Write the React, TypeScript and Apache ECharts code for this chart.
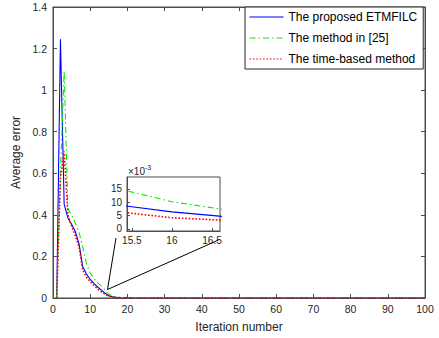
import React, { useEffect, useRef } from "react";
import * as echarts from "echarts";

// Average error per iteration (iterations 1..100)
const proposed = [
  0, 1.245, 0.45, 0.385, 0.355, 0.32, 0.26, 0.15, 0.115, 0.09,
  0.07, 0.053, 0.038, 0.023, 0.0102, 0.0064, 0.0037, 0.0022, 0.0014, 0.0009,
  0.0006, 0.0004, 0.0003, 0.0002, 0.00015, 0.0001, 0.0001, 0.00008, 0.00006, 0.00005,
  0.00004, 0.00003, 0.00003, 0.00002, 0.00002, 0.00002, 0.00001, 0.00001, 0.00001, 0.00001,
  0, 0, 0, 0, 0, 0, 0, 0, 0, 0,
  0, 0, 0, 0, 0, 0, 0, 0, 0, 0,
  0, 0, 0, 0, 0, 0, 0, 0, 0, 0,
  0, 0, 0, 0, 0, 0, 0, 0, 0, 0,
  0, 0, 0, 0, 0, 0, 0, 0, 0, 0,
  0, 0, 0, 0, 0, 0, 0, 0, 0, 0,
];

const method25 = [
  0, 0.6, 1.093, 0.43, 0.4, 0.36, 0.316, 0.244, 0.165, 0.12,
  0.093, 0.073, 0.057, 0.038, 0.0175, 0.0102, 0.0057, 0.0034, 0.0021, 0.0013,
  0.0009, 0.0006, 0.0004, 0.0003, 0.0002, 0.00015, 0.0001, 0.00008, 0.00006, 0.00005,
  0.00004, 0.00003, 0.00003, 0.00002, 0.00002, 0.00002, 0.00001, 0.00001, 0.00001, 0.00001,
  0, 0, 0, 0, 0, 0, 0, 0, 0, 0,
  0, 0, 0, 0, 0, 0, 0, 0, 0, 0,
  0, 0, 0, 0, 0, 0, 0, 0, 0, 0,
  0, 0, 0, 0, 0, 0, 0, 0, 0, 0,
  0, 0, 0, 0, 0, 0, 0, 0, 0, 0,
  0, 0, 0, 0, 0, 0, 0, 0, 0, 0,
];

const timeBased = [
  0, 0.58, 0.705, 0.4, 0.345, 0.3, 0.245, 0.135, 0.1, 0.08,
  0.06, 0.044, 0.03, 0.018, 0.0075, 0.0042, 0.0027, 0.0016, 0.001, 0.0006,
  0.0004, 0.0003, 0.0002, 0.00015, 0.0001, 0.00008, 0.00006, 0.00005, 0.00004, 0.00003,
  0.00003, 0.00002, 0.00002, 0.00002, 0.00001, 0.00001, 0.00001, 0.00001, 0.00001, 0,
  0, 0, 0, 0, 0, 0, 0, 0, 0, 0,
  0, 0, 0, 0, 0, 0, 0, 0, 0, 0,
  0, 0, 0, 0, 0, 0, 0, 0, 0, 0,
  0, 0, 0, 0, 0, 0, 0, 0, 0, 0,
  0, 0, 0, 0, 0, 0, 0, 0, 0, 0,
  0, 0, 0, 0, 0, 0, 0, 0, 0, 0,
];

const seriesNames = [
  "The proposed ETMFILC",
  "The method in [25]",
  "The time-based method",
];

const insetXTicks = [15.5, 16, 16.5];
const insetYTicks = [0, 5, 10, 15];

const FONT = "Liberation Sans, Arial, Helvetica, sans-serif";
const AXIS = "#4d4d4d";
const TEXT = "#262626";

// [iteration, value] pairs, iterations start at 1
const toPairs = (vals: number[], scale = 1) =>
  vals.map((v, i) => [i + 1, v * scale]);

const styles = [
  { color: "#0000ff", width: 1.1, type: "solid" as any },
  { color: "#00ee00", width: 1.1, type: [6, 3, 1.5, 3] as any },
  { color: "#ff0000", width: 1.6, type: [1.6, 1.8] as any },
];

export default function App() {
  const ref = useRef<HTMLDivElement>(null);

  useEffect(() => {
    if (!ref.current) return;
    document.body.style.margin = "0";
    const chart = echarts.init(ref.current, undefined, { renderer: "svg" });
    const datasets = [proposed, method25, timeBased];

    const mainSeries = datasets.map((d, i) => ({
      name: seriesNames[i],
      type: "line",
      xAxisIndex: 0,
      yAxisIndex: 0,
      data: toPairs(d),
      symbol: "none",
      lineStyle: styles[i],
      z: 2 + i,
    }));

    // zoomed view around iterations 15.4 - 16.6, values in units of 1e-3
    const insetSeries = datasets.map((d, i) => ({
      name: seriesNames[i],
      type: "line",
      xAxisIndex: 2,
      yAxisIndex: 2,
      data: toPairs(d, 1000).slice(12, 19),
      symbol: "none",
      clip: true,
      lineStyle: styles[i],
      z: 12 + i,
    }));

    const labelStyle = { color: TEXT, fontFamily: FONT, fontSize: 10.5 };

    chart.setOption({
      animation: false,
      backgroundColor: "#fff",
      grid: [
        {
          left: 53,
          right: 14,
          top: 7,
          bottom: 37,
          show: true,
          borderColor: AXIS,
          borderWidth: 1,
        },
        {
          left: 127,
          top: 177,
          width: 93,
          height: 54,
          show: true,
          backgroundColor: "#fff",
          borderColor: AXIS,
          borderWidth: 1,
          z: 10,
        },
      ],
      xAxis: [
        {
          gridIndex: 0,
          type: "value",
          min: 0,
          max: 100,
          interval: 10,
          name: "Iteration number",
          nameLocation: "middle",
          nameGap: 23,
          nameTextStyle: { color: TEXT, fontFamily: FONT, fontSize: 12 },
          axisLine: { onZero: false, lineStyle: { color: AXIS } },
          axisTick: { inside: true, length: 4, lineStyle: { color: AXIS } },
          axisLabel: { ...labelStyle, margin: 5 },
          splitLine: { show: false },
        },
        {
          gridIndex: 0,
          type: "value",
          position: "top",
          min: 0,
          max: 100,
          interval: 10,
          axisLine: { onZero: false, lineStyle: { color: AXIS } },
          axisTick: { inside: true, length: 4, lineStyle: { color: AXIS } },
          axisLabel: { show: false },
          splitLine: { show: false },
        },
        {
          gridIndex: 1,
          type: "value",
          min: 15.44,
          max: 16.6,
          z: 11,
          axisLine: { onZero: false, lineStyle: { color: AXIS } },
          axisTick: {
            inside: true,
            length: 3,
            customValues: insetXTicks,
            lineStyle: { color: AXIS },
          },
          axisLabel: {
            ...labelStyle,
            fontSize: 10,
            margin: 4,
            customValues: insetXTicks,
          },
          splitLine: { show: false },
        },
      ],
      yAxis: [
        {
          gridIndex: 0,
          type: "value",
          min: 0,
          max: 1.4,
          interval: 0.2,
          name: "Average error",
          nameLocation: "middle",
          nameGap: 28,
          nameTextStyle: { color: TEXT, fontFamily: FONT, fontSize: 12 },
          axisLine: { onZero: false, lineStyle: { color: AXIS } },
          axisTick: { inside: true, length: 4, lineStyle: { color: AXIS } },
          axisLabel: {
            ...labelStyle,
            margin: 6,
            formatter: (v: number) => String(+v.toFixed(1)),
          },
          splitLine: { show: false },
        },
        {
          gridIndex: 0,
          type: "value",
          position: "right",
          min: 0,
          max: 1.4,
          interval: 0.2,
          axisLine: { onZero: false, lineStyle: { color: AXIS } },
          axisTick: { inside: true, length: 4, lineStyle: { color: AXIS } },
          axisLabel: { show: false },
          splitLine: { show: false },
        },
        {
          gridIndex: 1,
          type: "value",
          min: -0.8,
          max: 19.5,
          z: 11,
          axisLine: { onZero: false, lineStyle: { color: AXIS } },
          axisTick: {
            inside: true,
            length: 3,
            customValues: insetYTicks,
            lineStyle: { color: AXIS },
          },
          axisLabel: {
            ...labelStyle,
            fontSize: 10,
            margin: 5,
            customValues: insetYTicks,
          },
          splitLine: { show: false },
        },
      ],
      legend: {
        data: seriesNames,
        orient: "vertical",
        left: 245,
        top: 7,
        itemWidth: 34,
        itemHeight: 12,
        itemGap: 9,
        padding: [4, 6, 4, 4],
        borderColor: "#262626",
        borderWidth: 1,
        backgroundColor: "#fff",
        itemStyle: { opacity: 0 },
        lineStyle: { width: 1 },
        textStyle: { color: "#000", fontFamily: FONT, fontSize: 12 },
        z: 20,
      },
      graphic: [
        {
          type: "line",
          shape: { x1: 107.5, y1: 289.5, x2: 116, y2: 238 },
          style: { stroke: "#000", lineWidth: 1 },
          z: 30,
        },
        {
          type: "line",
          shape: { x1: 107.5, y1: 289.5, x2: 218.5, y2: 240 },
          style: { stroke: "#000", lineWidth: 1 },
          z: 30,
        },
        {
          type: "text",
          x: 128,
          y: 171,
          style: {
            text: "×10",
            fontSize: 10,
            fontFamily: FONT,
            fill: TEXT,
            verticalAlign: "middle",
          },
          z: 30,
        },
        {
          type: "text",
          x: 145,
          y: 167,
          style: {
            text: "-3",
            fontSize: 7,
            fontFamily: FONT,
            fill: TEXT,
            verticalAlign: "middle",
          },
          z: 30,
        },
      ],
      series: [...mainSeries, ...insetSeries],
    });

    return () => chart.dispose();
  }, []);

  return <div ref={ref} style={{ width: 439, height: 338 }} />;
}
